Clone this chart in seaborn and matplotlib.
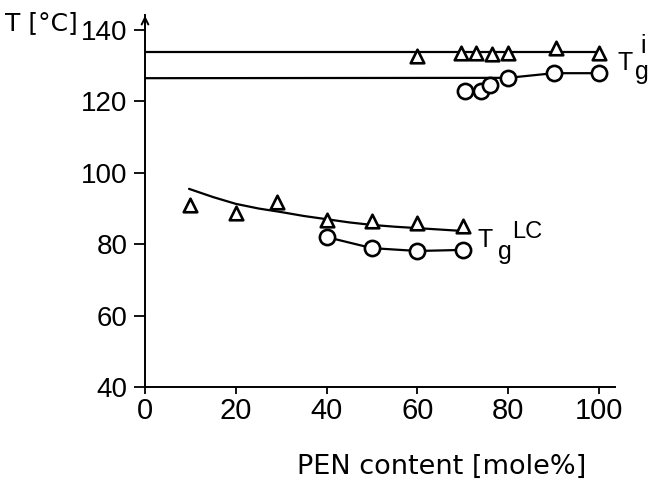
import matplotlib
matplotlib.use("Agg")
import matplotlib.pyplot as plt
import seaborn as sns

# ---- data ----
# T_g^i (upper) data
tri_i_x = [60, 69.5, 73, 76.5, 80, 90.5, 100]
tri_i_T = [132.7, 133.5, 133.5, 133.3, 133.6, 134.9, 133.6]
circ_i_x = [70.5, 74, 76, 80, 90, 100]
circ_i_T = [122.9, 122.9, 124.6, 126.6, 127.9, 127.9]
line_i_tri_x = [0, 100]
line_i_tri_T = [133.7, 133.7]
line_i_circ_x = [0, 80, 90, 100]
line_i_circ_T = [126.5, 126.6, 127.9, 127.9]

# T_g^LC (lower) data
tri_lc_x = [10, 20, 29, 40, 50, 60, 70]
tri_lc_T = [91.0, 88.7, 91.8, 86.8, 86.4, 85.8, 85.2]
circ_lc_x = [40, 50, 60, 70]
circ_lc_T = [82.0, 78.9, 78.1, 78.4]
curve_lc_x = [9.7, 15, 20, 25, 30, 35, 40, 45, 50, 55, 60, 65, 70]
curve_lc_T = [95.5, 93.2, 91.3, 90.0, 89.0, 87.9, 87.0, 86.1, 85.4, 84.9, 84.5, 84.1, 83.7]

x_ticks = [0, 20, 40, 60, 80, 100]
y_ticks = [40, 60, 80, 100, 120, 140]

sns.set_style("ticks")
plt.rcParams["font.family"] = ["Liberation Sans", "DejaVu Sans"]
plt.rcParams["text.color"] = "black"
plt.rcParams["xtick.color"] = "black"
plt.rcParams["ytick.color"] = "black"

W, H = 652, 480
fig = plt.figure(figsize=(W / 100, H / 100), dpi=100)
left, right = 145 / W, 615 / W
bottom, top = 1 - 387 / H, 1 - 15 / H
ax = fig.add_axes([left, bottom, right - left, top - bottom])
ax.set_xlim(0, (615 - 145) / 4.54)
ax.set_ylim(40, 144.2)

lw = 1.6
# lines
for xs, ys in [(line_i_tri_x, line_i_tri_T), (line_i_circ_x, line_i_circ_T),
               (curve_lc_x, curve_lc_T), (circ_lc_x, circ_lc_T)]:
    sns.lineplot(x=xs, y=ys, ax=ax, color="black", lw=lw, sort=False,
                 estimator=None, zorder=2)

# markers
for xs, ys, m, s in [(tri_i_x, tri_i_T, "^", 95), (tri_lc_x, tri_lc_T, "^", 95),
                     (circ_i_x, circ_i_T, "o", 120), (circ_lc_x, circ_lc_T, "o", 120)]:
    sns.scatterplot(x=xs, y=ys, ax=ax, marker=m, s=s, facecolor="white",
                    edgecolor="black", linewidth=1.9, zorder=3, clip_on=False)

# axes style
sns.despine(ax=ax)
for sp in ["left", "bottom"]:
    ax.spines[sp].set_linewidth(1.4)
    ax.spines[sp].set_color("black")
ax.set_xticks(x_ticks)
ax.set_yticks(y_ticks)
ax.set_xticklabels([str(v) for v in x_ticks], fontsize=21)
ax.set_yticklabels([str(v) for v in y_ticks], fontsize=20)
ax.tick_params(axis="y", direction="out", length=8, width=1.3, pad=4.5)
ax.tick_params(axis="x", direction="out", length=5, width=1.3, pad=2)
ax.set_xlabel("")
ax.set_ylabel("")

# arrow at top of y axis
ax.annotate("", xy=(0, 144.8), xytext=(0, 139), xycoords="data",
            arrowprops=dict(arrowstyle="->", color="black", lw=1.4,
                            mutation_scale=12), annotation_clip=False)

# curve labels
def label(x, y, parts):
    for txt, dx, dy, fs in parts:
        ax.annotate(txt, xy=(x, y), xytext=(dx, dy), textcoords="offset points",
                    fontsize=fs, ha="left", va="baseline", annotation_clip=False)

label(104, 128.8, [("T", 0, 0, 18), ("g", 13, -6.5, 18), ("i", 16.5, 12, 18)])
label(73.3, 79.2, [("T", 0, 0, 18), ("g", 14.4, -8.5, 18), ("LC", 24.5, 6.5, 17)])

# axis titles
fig.text(5 / W, 1 - 30 / H, "T [°C]", fontsize=18, ha="left", va="baseline",
         family="DejaVu Sans")
fig.text(586 / W, 1 - 474 / H, "PEN content [mole%]", fontsize=19.5,
         ha="right", va="baseline", family="DejaVu Sans")

fig.savefig("out.png", dpi=100)
